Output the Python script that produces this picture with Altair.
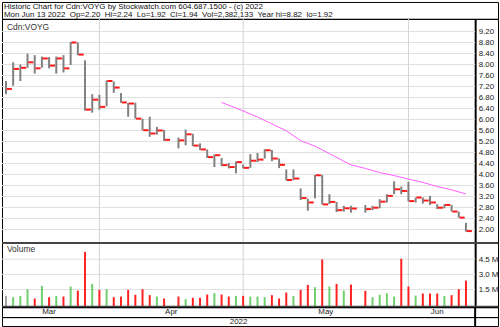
import altair as alt
import numpy as np
import pandas as pd

# ---------------- data ----------------
title_lines = [
    "Historic Chart for Cdn:VOYG by Stockwatch.com 604.687.1500 - (c) 2022",
    "Mon Jun 13 2022  Op=2.20  Hi=2.24  Lo=1.92  Cl=1.94  Vol=2,382,133  Year hi=8.82  lo=1.92",
]
symbol_label = "Cdn:VOYG"
volume_label = "Volume"
year_label = "2022"

first_day = "2022-03-15"
last_day = "2022-06-13"
holidays = ["2022-04-15", "2022-05-23"]

highs = [7.40, 8.08, 8.00, 8.39, 8.34, 8.29, 8.27, 8.29, 8.34, 8.82, 8.80, 8.15, 6.92, 6.90, 7.42, 7.38, 6.96, 6.60, 6.61, 6.03, 6.10, 5.73, 5.62,
         5.34, 5.63, 5.48, 5.13, 4.91, 4.73, 4.60, 4.42, 4.47, 4.36, 4.74, 4.78, 4.92, 4.89, 4.58, 4.18, 4.18, 3.49, 3.12, 3.98, 3.98, 3.28, 3.00, 2.86, 2.86,
         2.89, 2.86, 3.10, 3.28, 3.75, 3.56, 3.73, 3.16, 3.16, 3.22, 2.92, 2.92, 2.89, 2.65, 2.24]
lows = [6.92, 7.23, 7.40, 7.88, 7.67, 7.88, 7.86, 7.67, 7.71, 7.98, 8.34, 6.32, 6.25, 6.36, 6.48, 6.97, 6.61, 6.10, 6.03, 5.61, 5.37, 5.45, 5.22,
        4.95, 5.06, 5.03, 4.89, 4.60, 4.27, 4.30, 4.22, 4.04, 4.22, 4.24, 4.45, 4.58, 4.48, 4.23, 3.78, 3.79, 3.07, 2.68, 3.13, 2.90, 2.92, 2.63, 2.65, 2.61,
        2.61, 2.70, 2.77, 2.98, 3.28, 3.28, 3.02, 2.98, 2.94, 2.89, 2.74, 2.77, 2.65, 2.43, 1.92]
closes = [7.11, 7.84, 7.88, 8.08, 7.86, 8.22, 7.96, 8.22, 7.86, 8.80, 8.36, 6.36, 6.72, 6.46, 7.40, 7.16, 6.62, 6.58, 6.03, 5.61, 5.49, 5.60, 5.26,
          5.24, 5.46, 5.05, 4.91, 4.63, 4.70, 4.34, 4.27, 4.45, 4.24, 4.50, 4.54, 4.88, 4.58, 4.35, 3.80, 3.85, 3.14, 2.98, 3.97, 2.91, 3.00, 2.70, 2.77, 2.76,
          2.74, 2.79, 3.01, 3.22, 3.46, 3.40, 3.03, 3.16, 3.05, 2.98, 2.79, 2.89, 2.65, 2.43, 1.94]
volumes_m = [0.88, 0.75, 0.88, 1.54, 0.62, 1.86, 0.75, 0.88, 0.81, 1.80, 1.40, 5.22, 2.06, 1.47, 1.54, 0.75, 0.81, 1.47, 0.98, 1.54, 0.95, 0.81, 0.62,
             0.81, 0.56, 0.69, 0.69, 1.01, 1.14, 1.01, 0.81, 0.88, 0.88, 0.81, 0.81, 0.75, 0.95, 0.62, 1.21, 0.88, 1.47, 1.96, 1.73, 4.48, 1.80, 2.06, 1.40, 1.99,
             1.37, 0.75, 0.98, 1.14, 0.81, 4.54, 1.80, 0.91, 1.11, 1.11, 1.11, 0.88, 0.95, 1.54, 2.38]

ma_dates = ["2022-04-26", "2022-04-29", "2022-05-03", "2022-05-05", "2022-05-09", "2022-05-11", "2022-05-13",
            "2022-05-17", "2022-05-19", "2022-05-20", "2022-05-24", "2022-05-26", "2022-05-30", "2022-06-01",
            "2022-06-03", "2022-06-07", "2022-06-09", "2022-06-13"]
ma_values = [6.62, 6.31, 6.09, 5.84, 5.59, 5.23, 5.03, 4.76, 4.48, 4.35, 4.22, 4.07, 3.96, 3.83, 3.71, 3.56, 3.44, 3.29]

grid_dates = ["2022-04-01", "2022-04-29", "2022-06-01"]
price_ticks = [2.00, 2.40, 2.80, 3.20, 3.60, 4.00, 4.40, 4.80, 5.20, 5.60, 6.00, 6.40, 6.80, 7.20, 7.60, 8.00, 8.40, 8.80, 9.20]
volume_ticks = [1.5, 3.0, 4.5]
month_names = ["Mar", "Apr", "May", "Jun"]

# ---------------- build tables ----------------
FONT = "Liberation Sans"
W = 499
X_MIN, X_MAX = -0.553, 68.46


def slot_of(d):
    return int(np.busday_count(first_day, pd.Timestamp(d).strftime("%Y-%m-%d")))


dates = [d for d in pd.bdate_range(first_day, last_day) if d.strftime("%Y-%m-%d") not in holidays]
slots = [slot_of(d) for d in dates]
dirs = []
for i, c in enumerate(closes):
    if i == 0 or c == closes[i - 1]:
        dirs.append("flat")
    elif c > closes[i - 1]:
        dirs.append("up")
    else:
        dirs.append("down")

bars = pd.DataFrame({"slot": slots, "high": highs, "low": lows, "close": closes,
                     "vol": volumes_m, "dir": dirs, "month": [d.strftime("%b") for d in dates]})
ma_df = pd.DataFrame({"slot": [slot_of(d) for d in ma_dates], "ma": ma_values})
vgrid_df = pd.DataFrame({"slot": [slot_of(d) for d in grid_dates]})
pgrid_df = pd.DataFrame({"v": price_ticks})
vgrid_vol_df = pd.DataFrame({"v": volume_ticks})
mon = bars.groupby("month")["slot"].agg(["min", "max"]).reset_index()
mon["pos"] = (mon["min"] + mon["max"]) / 2
mon = mon.set_index("month").loc[month_names].reset_index()

xs = alt.Scale(domain=[X_MIN, X_MAX], nice=False, zero=False)


def X(field):
    return alt.X(field, type="quantitative", scale=xs, axis=None)


# ---------------- header ----------------
one = pd.DataFrame({"a": [0]})
header = alt.layer(
    *[
        alt.Chart(one).mark_text(align="left", baseline="middle", font=FONT, fontSize=8, color="#111")
        .encode(x=alt.value(2), y=alt.value(5.5 + 8 * i), text=alt.value(t.replace("  ", " \u00a0")))
        for i, t in enumerate(title_lines)
    ]
).properties(width=W, height=17)

# ---------------- price panel ----------------
py_scale = alt.Scale(domain=[1.523, 9.66], nice=False, zero=False)
py_axis = alt.Axis(orient="right", offset=-23, values=price_ticks, format=".2f", ticks=False, grid=False,
                   labelPadding=3, labelFont=FONT, labelFontSize=8, labelColor="#222", domainColor="#000",
                   domainWidth=2, title=None, labelOverlap=False, labelFlush=False)
PY = lambda f: alt.Y(f, type="quantitative", scale=py_scale, axis=py_axis)

p_hgrid = alt.Chart(pgrid_df).mark_rule(color="#e0e0e0", strokeWidth=1).encode(
    y=PY("v"), x=alt.value(0), x2=alt.value(476))
p_vgrid = alt.Chart(vgrid_df).mark_rule(color="#d4d4d4", strokeWidth=1).encode(x=X("slot"))
p_hilo = alt.Chart(bars).mark_rule(color="#808080", strokeWidth=2).encode(
    x=X("slot"), y=PY("low"), y2="high:Q")
p_close = alt.Chart(bars).transform_calculate(xa="datum.slot + 0.1", xb="datum.slot + 0.82").mark_rule(
    color="#ff1a1a", strokeWidth=2).encode(x=X("xa"), x2="xb:Q", y=PY("close"))
p_ma = alt.Chart(ma_df).mark_line(color="#ff5cff", strokeWidth=1).encode(x=X("slot"), y=PY("ma"))
p_label = alt.Chart(one).mark_text(align="left", baseline="middle", font=FONT, fontSize=8.5, color="#333").encode(
    x=alt.value(5), y=alt.value(8), text=alt.value(symbol_label))
price = alt.layer(p_hgrid, p_vgrid, p_hilo, p_close, p_ma, p_label).properties(width=W, height=225)

# ---------------- volume panel ----------------
vy_scale = alt.Scale(domain=[-0.235, 6.14], nice=False, zero=False)
vy_axis = alt.Axis(orient="right", offset=-23, values=volume_ticks, ticks=False, grid=False,
                   labelExpr="format(datum.value, '.1f') + ' M'",
                   labelPadding=3, labelFont=FONT, labelFontSize=8, labelColor="#222", domainColor="#000",
                   domainWidth=2, title=None, labelOverlap=False, labelFlush=False)
VY = lambda f: alt.Y(f, type="quantitative", scale=vy_scale, axis=vy_axis)

v_hgrid = alt.Chart(vgrid_vol_df).mark_rule(color="#e0e0e0", strokeWidth=1).encode(
    y=VY("v"), x=alt.value(0), x2=alt.value(476))
v_vgrid = alt.Chart(vgrid_df).mark_rule(color="#d4d4d4", strokeWidth=1).encode(x=X("slot"))
v_bars = alt.Chart(bars).mark_rule(strokeWidth=2).encode(
    x=X("slot"), y=VY("vol"), y2=alt.value(65),
    color=alt.Color("dir:N", scale=alt.Scale(domain=["up", "down", "flat"],
                                             range=["#6fcf6f", "#ff2020", "#a0a0a0"]), legend=None))
v_top = alt.Chart(one).mark_rule(color="#444", strokeWidth=2).encode(
    y=alt.value(0.5), x=alt.value(0), x2=alt.value(W))
v_bottom = alt.Chart(one).mark_rule(color="#444", strokeWidth=2).encode(
    y=alt.value(64.5), x=alt.value(0), x2=alt.value(W))
v_label = alt.Chart(one).mark_text(align="left", baseline="middle", font=FONT, fontSize=8.5, color="#333").encode(
    x=alt.value(5), y=alt.value(7), text=alt.value(volume_label))
volume = alt.layer(v_hgrid, v_vgrid, v_bars, v_top, v_bottom, v_label).properties(width=W, height=65)

# ---------------- month row and year row ----------------
axis_line = alt.Chart(one).mark_rule(color="#000", strokeWidth=2).encode(
    x=alt.value(476), y=alt.value(0), y2=alt.value(10))
months = alt.layer(
    alt.Chart(mon).mark_text(baseline="middle", font=FONT, fontSize=8, color="#222").encode(
        x=X("pos"), y=alt.value(5), text="month:N"),
    axis_line,
).properties(width=W, height=10)

year = alt.layer(
    alt.Chart(one).mark_text(baseline="middle", font=FONT, fontSize=8, color="#222").encode(
        x=alt.value(238), y=alt.value(4.5), text=alt.value(year_label)),
    axis_line,
).properties(width=W, height=9)

chart = alt.vconcat(header, price, volume, months, year, spacing=0, bounds="flush").properties(
    padding=0, background="white"
).configure_view(stroke="#000", strokeWidth=1)

chart.save("out.html", embed_options={"renderer": "svg", "actions": False})
